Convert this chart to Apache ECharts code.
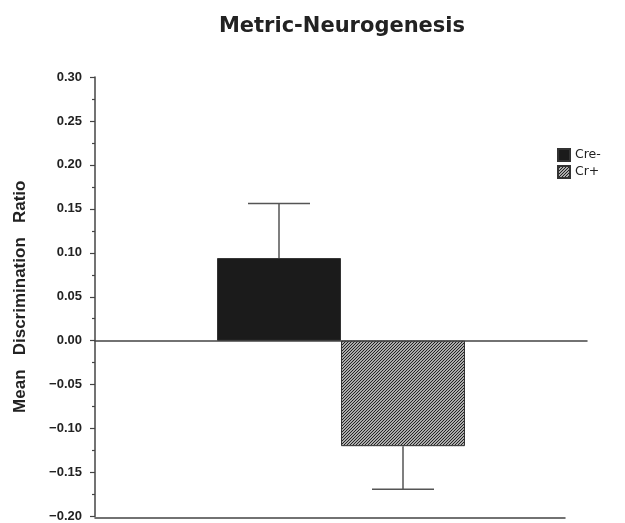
<!DOCTYPE html>
<html><head><meta charset="utf-8">
<script src="https://cdn.jsdelivr.net/npm/echarts@6/dist/echarts.min.js"></script>
<style>html,body{margin:0;padding:0;background:#fff}#c{width:625px;height:523px}</style>
</head><body><div id="c"></div>
<script>
const titleText = 'Metric-Neurogenesis';
const yAxisName = 'Mean   Discrimination   Ratio';
const categories = [''];
const seriesNames = ['Cre-', 'Cr+'];
const means = [0.094, -0.120];
const errors = [0.062, 0.049];
const yTicks = { min: -0.20, max: 0.30, interval: 0.05 };

function hatch() {
  const s = 3, cv = document.createElement('canvas');
  cv.width = s; cv.height = s;
  const g = cv.getContext('2d');
  g.fillStyle = '#e6e6e6'; g.fillRect(0, 0, s, s);
  g.strokeStyle = '#1a1a1a'; g.lineWidth = 1.1;
  g.beginPath();
  g.moveTo(-1, s + 1); g.lineTo(s + 1, -1);
  g.moveTo(-1, 1); g.lineTo(1, -1);
  g.moveTo(s - 1, s + 1); g.lineTo(s + 1, s - 1);
  g.stroke();
  return cv;
}
const fills = ['#1b1b1b', { image: hatch(), repeat: 'repeat' }];
const BAR_W = 124;

const chart = echarts.init(document.getElementById('c'), null, { renderer: 'canvas' });
const barSeries = seriesNames.map((n, i) => ({
  name: n, type: 'bar', xAxisIndex: 0, yAxisIndex: 0,
  data: [means[i]], barWidth: BAR_W, barGap: '0%',
  itemStyle: { color: fills[i], borderColor: '#333', borderWidth: 1 },
  silent: true, z: 2
}));
const errData = means.map((m, i) => [0, m, errors[i], i]);
chart.setOption({
  animation: false,
  title: { text: titleText, left: 337, top: 11, textAlign: 'center',
    textStyle: { fontFamily: 'DejaVu Sans', fontWeight: 'bold', fontSize: 21, color: '#222' } },
  legend: { data: seriesNames, orient: 'vertical', left: 552, top: 143, itemWidth: 12, itemHeight: 12, itemGap: 3,
    icon: 'rect', textStyle: { fontFamily: 'DejaVu Sans', fontSize: 12.5, color: '#222' } },
  grid: [
    { left: 95, right: 38, top: 77, bottom: 5, containLabel: false },
    { left: 95, right: 60, top: 77, bottom: 5, containLabel: false }
  ],
  xAxis: [
    { type: 'category', gridIndex: 0, data: categories,
      axisLine: { onZero: true, lineStyle: { color: '#444', width: 1.5 } },
      axisTick: { show: false }, axisLabel: { show: false }, splitLine: { show: false } },
    { type: 'category', gridIndex: 1, data: categories, position: 'bottom',
      axisLine: { onZero: false, lineStyle: { color: '#444', width: 1.5 } },
      axisTick: { show: false }, axisLabel: { show: false }, splitLine: { show: false } }
  ],
  yAxis: [
    { type: 'value', gridIndex: 0, min: yTicks.min, max: yTicks.max, interval: yTicks.interval,
      name: yAxisName, nameLocation: 'middle', nameGap: 66,
      nameTextStyle: { fontFamily: 'Liberation Sans', fontWeight: 'bold', fontSize: 17, color: '#222' },
      axisLine: { show: true, lineStyle: { color: '#444', width: 1.5 } },
      axisTick: { show: true, length: 5, lineStyle: { color: '#444', width: 1.2 } },
      minorTick: { show: true, splitNumber: 2, length: 3, lineStyle: { color: '#444', width: 1.2 } },
      axisLabel: { margin: 13, fontFamily: 'Liberation Sans', fontWeight: 'bold', fontSize: 13, color: '#222',
        formatter: v => (v < 0 ? '\u2212' : '') + Math.abs(v).toFixed(2) },
      splitLine: { show: false } },
    { type: 'value', gridIndex: 1, min: yTicks.min, max: yTicks.max, show: false }
  ],
  series: barSeries.concat([{
    type: 'custom', xAxisIndex: 0, yAxisIndex: 0, data: errData, z: 1, silent: true,
    renderItem: function (params, api) {
      const k = api.value(3), m = api.value(1), e = api.value(2);
      const sign = m >= 0 ? 1 : -1;
      const base = api.coord([api.value(0), m]);
      const end = api.coord([api.value(0), m + sign * e]);
      const x = base[0] + (k - 0.5) * BAR_W;
      const hw = 31;
      const st = { stroke: '#555', lineWidth: 1.5 };
      return { type: 'group', children: [
        { type: 'line', shape: { x1: x, y1: base[1], x2: x, y2: end[1] }, style: st },
        { type: 'line', shape: { x1: x - hw, y1: end[1], x2: x + hw, y2: end[1] }, style: st }
      ] };
    }
  }])
});
</script></body></html>
